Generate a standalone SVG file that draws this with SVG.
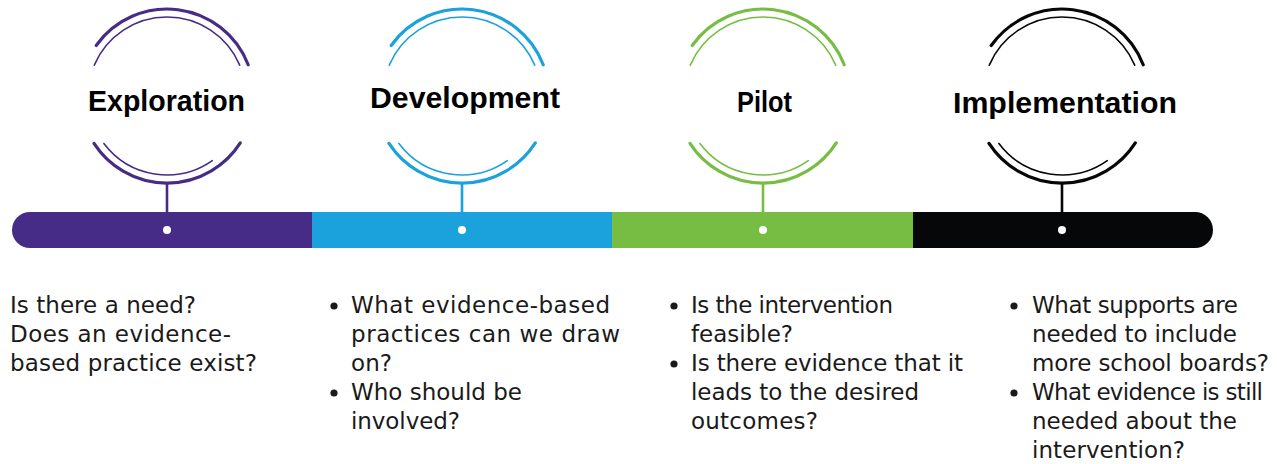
<svg xmlns="http://www.w3.org/2000/svg" xmlns:xlink="http://www.w3.org/1999/xlink" width="1277" height="464" viewBox="0 0 1277 464">
  <style>
    .title { font-family: "Liberation Sans", Arial, sans-serif; font-weight: bold; font-size: 29px; fill: #000; }
    .body { font-family: "DejaVu Sans", "Liberation Sans", sans-serif; font-size: 23px; fill: #1a1a1a; }
    .ring .outer { fill: none; stroke-width: 3.2; stroke-linecap: round; }
    .ring .inner { fill: none; stroke-width: 1.6; stroke-linecap: round; }
    .stem { stroke-width: 2.6; }
    .bullet { fill: #1a1a1a; }
    .dot { fill: #fff; }
  </style>
  <defs>
    <!-- split double ring, centred at the origin; colour comes from the <use> stroke -->
    <g id="ring-shape" class="ring">
      <path class="outer" d="M -70.8 -50.5 A 87 87 0 0 1 81.2 -31.2"/>
      <path class="inner" d="M -72.7 -30.9 A 79 79 0 0 1 72.7 -30.9"/>
      <path class="outer" d="M 73.3 46.9 A 87 87 0 0 1 -73 47.4"/>
      <path class="inner" d="M 45.3 64.7 A 79 79 0 0 1 -63.1 47.5"/>
    </g>
    <clipPath id="bar-clip">
      <rect x="12" y="212" width="1201" height="36" rx="18" ry="18"/>
    </clipPath>
  </defs>

  <rect width="1277" height="464" fill="#fff"/>

  <!-- timeline bar -->
  <g id="timeline-bar" clip-path="url(#bar-clip)">
    <rect x="12" y="212" width="300" height="36" fill="#472C87"/>
    <rect x="312" y="212" width="300" height="36" fill="#1BA1DC"/>
    <rect x="612" y="212" width="301" height="36" fill="#77BD43"/>
    <rect x="913" y="212" width="300" height="36" fill="#060709"/>
  </g>

  <!-- stems linking each ring to the bar -->
  <g id="connectors" class="stem">
    <line x1="167" y1="183" x2="167" y2="212" stroke="#472C87"/>
    <line x1="462" y1="183" x2="462" y2="212" stroke="#1BA1DC"/>
    <line x1="763" y1="183" x2="763" y2="212" stroke="#77BD43"/>
    <line x1="1062" y1="183" x2="1062" y2="212" stroke="#060709"/>
  </g>

  <!-- Exploration -->
  <g id="node-exploration">
    <use xlink:href="#ring-shape" transform="translate(167,96)" stroke="#472C87"/>
    <text class="title" x="88" y="111" textLength="157" lengthAdjust="spacingAndGlyphs">Exploration</text>
    <circle class="dot" cx="167" cy="230" r="4"/>
    <text class="body" x="10" y="313" textLength="186">Is there a need?</text>
    <text class="body" x="10" y="342" textLength="221">Does an evidence-</text>
    <text class="body" x="10" y="371" textLength="247">based practice exist?</text>
  </g>

  <!-- Development -->
  <g id="node-development">
    <use xlink:href="#ring-shape" transform="translate(462,96)" stroke="#1BA1DC"/>
    <text class="title" x="370" y="108" textLength="190" lengthAdjust="spacingAndGlyphs">Development</text>
    <circle class="dot" cx="462" cy="230" r="4"/>
    <circle class="bullet" cx="334" cy="306" r="3.6"/>
    <text class="body" x="351" y="313" textLength="259">What evidence-based</text>
    <text class="body" x="351" y="342" textLength="269">practices can we draw</text>
    <text class="body" x="351" y="371" textLength="41">on?</text>
    <circle class="bullet" cx="334" cy="393" r="3.6"/>
    <text class="body" x="351" y="400" textLength="171">Who should be</text>
    <text class="body" x="351" y="429" textLength="109">involved?</text>
  </g>

  <!-- Pilot -->
  <g id="node-pilot">
    <use xlink:href="#ring-shape" transform="translate(763,96)" stroke="#77BD43"/>
    <text class="title" x="737" y="112" textLength="55" lengthAdjust="spacingAndGlyphs">Pilot</text>
    <circle class="dot" cx="763" cy="230" r="4"/>
    <circle class="bullet" cx="674" cy="306" r="3.6"/>
    <text class="body" x="691" y="313" textLength="202">Is the intervention</text>
    <text class="body" x="691" y="342" textLength="102">feasible?</text>
    <circle class="bullet" cx="674" cy="364" r="3.6"/>
    <text class="body" x="691" y="371" textLength="272">Is there evidence that it</text>
    <text class="body" x="691" y="400" textLength="228">leads to the desired</text>
    <text class="body" x="691" y="429" textLength="127">outcomes?</text>
  </g>

  <!-- Implementation -->
  <g id="node-implementation">
    <use xlink:href="#ring-shape" transform="translate(1062,96)" stroke="#060709"/>
    <text class="title" x="953" y="113" textLength="224" lengthAdjust="spacingAndGlyphs">Implementation</text>
    <circle class="dot" cx="1062" cy="230" r="4"/>
    <circle class="bullet" cx="1014" cy="306" r="3.6"/>
    <text class="body" x="1032" y="313" textLength="206">What supports are</text>
    <text class="body" x="1032" y="342" textLength="205">needed to include</text>
    <text class="body" x="1032" y="371" textLength="237">more school boards?</text>
    <circle class="bullet" cx="1014" cy="393" r="3.6"/>
    <text class="body" x="1032" y="400" textLength="231">What evidence is still</text>
    <text class="body" x="1032" y="429" textLength="205">needed about the</text>
    <text class="body" x="1032" y="458" textLength="153">intervention?</text>
  </g>
</svg>
